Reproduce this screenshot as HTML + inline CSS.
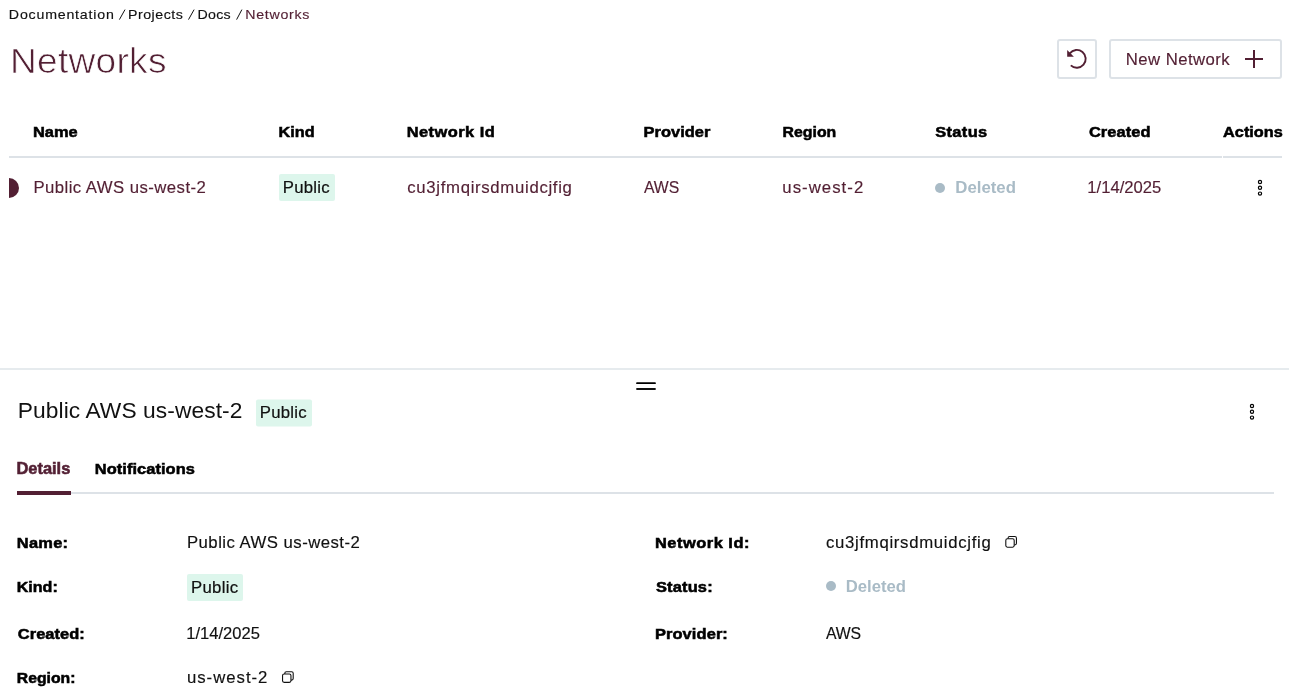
<!DOCTYPE html>
<html><head><meta charset="utf-8"><title>Networks</title>
<style>
html,body{margin:0;padding:0;background:#fff;width:1289px;height:700px;overflow:hidden}
svg{display:block;will-change:transform}
text{font-family:"Liberation Sans",sans-serif}
</style></head><body>
<svg width="1289" height="700" viewBox="0 0 1289 700">
<rect width="1289" height="700" fill="#fff"/>
<rect x="1058" y="40" width="38" height="38" rx="2" fill="#fff" stroke="#dde2e7" stroke-width="2"/>
<rect x="1110" y="40" width="171" height="38" rx="2" fill="#fff" stroke="#dde2e7" stroke-width="2"/>
<path d="M1069.8 53.3 A8.9 8.9 0 1 1 1070.8 65.4" fill="none" stroke="#521f33" stroke-width="1.9"/>
<path d="M1067.2 50.0 L1067.2 56.7 L1073.9 56.7 Z" fill="#521f33"/>
<rect x="1245" y="58" width="18" height="2" fill="#521f33"/>
<rect x="1253" y="50" width="2" height="18" fill="#521f33"/>
<line x1="119.40" y1="19.6" x2="125.00" y2="9.6" stroke="#111111" stroke-width="1.0"/>
<line x1="188.50" y1="19.6" x2="194.10" y2="9.6" stroke="#111111" stroke-width="1.0"/>
<line x1="236.60" y1="19.6" x2="241.90" y2="9.6" stroke="#111111" stroke-width="1.0"/>
<rect x="9" y="156" width="1213" height="2" fill="#dde2e7"/>
<rect x="1223" y="156" width="59" height="2" fill="#dde2e7"/>
<path d="M9 178 A10 10 0 0 1 9 198 Z" fill="#521f33"/>
<rect x="279" y="174" width="56" height="27" rx="2" fill="#ddf6ec"/>
<rect x="256" y="399.5" width="56" height="27" rx="2" fill="#ddf6ec"/>
<rect x="187" y="574" width="56" height="27" rx="2" fill="#ddf6ec"/>
<circle cx="940" cy="188" r="5" fill="#a9bbc6"/>
<circle cx="831" cy="586" r="5" fill="#a9bbc6"/>
<circle cx="1260" cy="182.00" r="1.6" fill="none" stroke="#000" stroke-width="1.2"/><circle cx="1260" cy="187.80" r="1.6" fill="none" stroke="#000" stroke-width="1.2"/><circle cx="1260" cy="193.60" r="1.6" fill="none" stroke="#000" stroke-width="1.2"/>
<circle cx="1252" cy="406.00" r="1.6" fill="none" stroke="#000" stroke-width="1.2"/><circle cx="1252" cy="411.80" r="1.6" fill="none" stroke="#000" stroke-width="1.2"/><circle cx="1252" cy="417.60" r="1.6" fill="none" stroke="#000" stroke-width="1.2"/>
<rect x="0" y="368" width="1289" height="2" fill="#e6ebee"/>
<line x1="637" y1="383.2" x2="655" y2="383.2" stroke="#000" stroke-width="1.8" stroke-linecap="round"/>
<line x1="637" y1="389" x2="655" y2="389" stroke="#111" stroke-width="1.8" stroke-linecap="round"/>
<rect x="17" y="492" width="1257" height="2" fill="#dde2e7"/>
<rect x="17" y="491" width="54" height="4" fill="#521f33"/>
<rect x="1008.05" y="536.55" width="8.40" height="8.40" rx="1.6" fill="none" stroke="#111" stroke-width="1.1"/><rect x="1005.80" y="538.80" width="8.40" height="8.40" rx="1.6" fill="#fff" stroke="#111" stroke-width="1.1"/>
<rect x="284.80" y="671.75" width="8.40" height="8.40" rx="1.6" fill="none" stroke="#111" stroke-width="1.1"/><rect x="282.55" y="674.00" width="8.40" height="8.40" rx="1.6" fill="#fff" stroke="#111" stroke-width="1.1"/>
<text transform="translate(9.90,18.80) scale(1.0600,1)" x="-1.00" y="0" font-size="13.4" font-weight="400" fill="#111111" stroke="#111111" stroke-width="0.15" style="letter-spacing:0.744px">Documentation</text>
<text transform="translate(129.00,18.80) scale(1.0600,1)" x="-1.00" y="0" font-size="13.4" font-weight="400" fill="#111111" stroke="#111111" stroke-width="0.15" style="letter-spacing:0.480px">Projects</text>
<text transform="translate(198.60,18.80) scale(1.0600,1)" x="-1.00" y="0" font-size="13.4" font-weight="400" fill="#111111" stroke="#111111" stroke-width="0.15" style="letter-spacing:0.220px">Docs</text>
<text transform="translate(246.40,18.80) scale(1.0600,1)" x="-1.00" y="0" font-size="13.4" font-weight="400" fill="#521f33" stroke="#521f33" stroke-width="0.15" style="letter-spacing:0.645px">Networks</text>
<text transform="translate(12.00,73.00) scale(1.0600,1)" x="-2.00" y="0" font-size="35" font-weight="400" fill="#521f33" stroke="#fff" stroke-width="0.7" style="letter-spacing:0.274px">Networks</text>
<text transform="translate(1126.80,65.00) scale(1.0600,1)" x="-1.00" y="0" font-size="15.8" font-weight="400" fill="#521f33" stroke="#521f33" stroke-width="0.15" style="letter-spacing:0.424px">New Network</text>
<text transform="translate(34.00,137.00) scale(1.0600,1)" x="-1.00" y="0" font-size="15.5" font-weight="700" fill="#000000" stroke="#000000" stroke-width="0.55" style="letter-spacing:0.003px">Name</text>
<text transform="translate(279.60,137.00) scale(1.0495,1)" x="-1.00" y="0" font-size="15.5" font-weight="700" fill="#000000" stroke="#000000" stroke-width="0.55" style="letter-spacing:0.000px">Kind</text>
<text transform="translate(407.70,137.00) scale(1.0600,1)" x="-1.00" y="0" font-size="15.5" font-weight="700" fill="#000000" stroke="#000000" stroke-width="0.55" style="letter-spacing:0.437px">Network Id</text>
<text transform="translate(644.50,137.00) scale(1.0600,1)" x="-1.00" y="0" font-size="15.5" font-weight="700" fill="#000000" stroke="#000000" stroke-width="0.55" style="letter-spacing:0.045px">Provider</text>
<text transform="translate(783.60,137.00) scale(1.0224,1)" x="-1.00" y="0" font-size="15.5" font-weight="700" fill="#000000" stroke="#000000" stroke-width="0.55" style="letter-spacing:0.000px">Region</text>
<text transform="translate(935.20,137.00) scale(1.0600,1)" x="0.00" y="0" font-size="15.5" font-weight="700" fill="#000000" stroke="#000000" stroke-width="0.55" style="letter-spacing:0.329px">Status</text>
<text transform="translate(1088.90,137.00) scale(1.0600,1)" x="0.00" y="0" font-size="15.5" font-weight="700" fill="#000000" stroke="#000000" stroke-width="0.55" style="letter-spacing:0.066px">Created</text>
<text transform="translate(1223.10,137.00) scale(1.0495,1)" x="0.00" y="0" font-size="15.5" font-weight="700" fill="#000000" stroke="#000000" stroke-width="0.55" style="letter-spacing:0.000px">Actions</text>
<text transform="translate(34.50,193.00) scale(1.0600,1)" x="-1.00" y="0" font-size="15.8" font-weight="400" fill="#521f33" stroke="#521f33" stroke-width="0.15" style="letter-spacing:0.416px">Public AWS us-west-2</text>
<text transform="translate(283.90,192.80) scale(1.0600,1)" x="-1.00" y="0" font-size="15.8" font-weight="400" fill="#111111" stroke="#111111" stroke-width="0.2" style="letter-spacing:0.235px">Public</text>
<text transform="translate(407.20,193.00) scale(1.0600,1)" x="0.00" y="0" font-size="15.8" font-weight="400" fill="#521f33" stroke="#521f33" stroke-width="0.15" style="letter-spacing:0.653px">cu3jfmqirsdmuidcjfig</text>
<text transform="translate(643.90,193.00) scale(1.0000,1)" x="0.00" y="0" font-size="15.8" font-weight="400" fill="#521f33" stroke="#521f33" stroke-width="0.15" style="letter-spacing:-0.030px">AWS</text>
<text transform="translate(783.40,193.00) scale(1.0600,1)" x="-1.00" y="0" font-size="15.8" font-weight="400" fill="#521f33" stroke="#521f33" stroke-width="0.15" style="letter-spacing:0.980px">us-west-2</text>
<text transform="translate(956.30,193.00) scale(1.0513,1)" x="-1.00" y="0" font-size="16" font-weight="700" fill="#a9bbc6" style="letter-spacing:0.000px">Deleted</text>
<text transform="translate(1088.40,193.00) scale(1.0534,1)" x="-1.00" y="0" font-size="15.8" font-weight="400" fill="#521f33" stroke="#521f33" stroke-width="0.15" style="letter-spacing:0.000px">1/14/2025</text>
<text transform="translate(18.80,418.00) scale(1.0600,1)" x="-1.00" y="0" font-size="21.5" font-weight="400" fill="#111111" style="letter-spacing:0.074px">Public AWS us-west-2</text>
<text transform="translate(260.90,418.00) scale(1.0600,1)" x="-1.00" y="0" font-size="15.8" font-weight="400" fill="#111111" stroke="#111111" stroke-width="0.2" style="letter-spacing:0.235px">Public</text>
<text transform="translate(17.40,474.00) scale(1.0297,1)" x="-1.00" y="0" font-size="16" font-weight="700" fill="#521f33" stroke="#521f33" stroke-width="0.55" style="letter-spacing:-0.000px">Details</text>
<text transform="translate(95.80,474.00) scale(1.0600,1)" x="-1.00" y="0" font-size="15.5" font-weight="700" fill="#000000" stroke="#000000" stroke-width="0.55" style="letter-spacing:0.049px">Notifications</text>
<text transform="translate(17.80,548.00) scale(1.0600,1)" x="-1.00" y="0" font-size="15.5" font-weight="700" fill="#000000" stroke="#000000" stroke-width="0.55" style="letter-spacing:0.253px">Name:</text>
<text transform="translate(188.00,548.00) scale(1.0600,1)" x="-1.00" y="0" font-size="15.8" font-weight="400" fill="#111111" stroke="#111111" stroke-width="0.15" style="letter-spacing:0.441px">Public AWS us-west-2</text>
<text transform="translate(656.00,548.00) scale(1.0600,1)" x="-1.00" y="0" font-size="15.5" font-weight="700" fill="#000000" stroke="#000000" stroke-width="0.55" style="letter-spacing:0.475px">Network Id:</text>
<text transform="translate(826.00,548.00) scale(1.0600,1)" x="0.00" y="0" font-size="15.8" font-weight="400" fill="#111111" stroke="#111111" stroke-width="0.15" style="letter-spacing:0.653px">cu3jfmqirsdmuidcjfig</text>
<text transform="translate(17.80,592.00) scale(1.0364,1)" x="-1.00" y="0" font-size="15.5" font-weight="700" fill="#000000" stroke="#000000" stroke-width="0.55" style="letter-spacing:0.000px">Kind:</text>
<text transform="translate(192.00,593.00) scale(1.0600,1)" x="-1.00" y="0" font-size="15.8" font-weight="400" fill="#111111" stroke="#111111" stroke-width="0.2" style="letter-spacing:0.311px">Public</text>
<text transform="translate(656.00,592.00) scale(1.0600,1)" x="0.00" y="0" font-size="15.5" font-weight="700" fill="#000000" stroke="#000000" stroke-width="0.55" style="letter-spacing:0.149px">Status:</text>
<text transform="translate(846.80,592.00) scale(1.0424,1)" x="-1.00" y="0" font-size="16" font-weight="700" fill="#a9bbc6" style="letter-spacing:0.000px">Deleted</text>
<text transform="translate(17.80,639.00) scale(1.0600,1)" x="0.00" y="0" font-size="15.5" font-weight="700" fill="#000000" stroke="#000000" stroke-width="0.55" style="letter-spacing:0.038px">Created:</text>
<text transform="translate(187.30,639.00) scale(1.0476,1)" x="-1.00" y="0" font-size="15.8" font-weight="400" fill="#111111" stroke="#111111" stroke-width="0.15" style="letter-spacing:0.000px">1/14/2025</text>
<text transform="translate(656.00,639.00) scale(1.0600,1)" x="-1.00" y="0" font-size="15.5" font-weight="700" fill="#000000" stroke="#000000" stroke-width="0.55" style="letter-spacing:0.090px">Provider:</text>
<text transform="translate(826.00,639.00) scale(1.0000,1)" x="0.00" y="0" font-size="15.8" font-weight="400" fill="#111111" stroke="#111111" stroke-width="0.15" style="letter-spacing:-0.180px">AWS</text>
<text transform="translate(17.80,683.00) scale(1.0176,1)" x="-1.00" y="0" font-size="15.5" font-weight="700" fill="#000000" stroke="#000000" stroke-width="0.55" style="letter-spacing:0.000px">Region:</text>
<text transform="translate(188.00,683.00) scale(1.0600,1)" x="-1.00" y="0" font-size="15.8" font-weight="400" fill="#111111" stroke="#111111" stroke-width="0.15" style="letter-spacing:0.933px">us-west-2</text>
</svg>
</body></html>
